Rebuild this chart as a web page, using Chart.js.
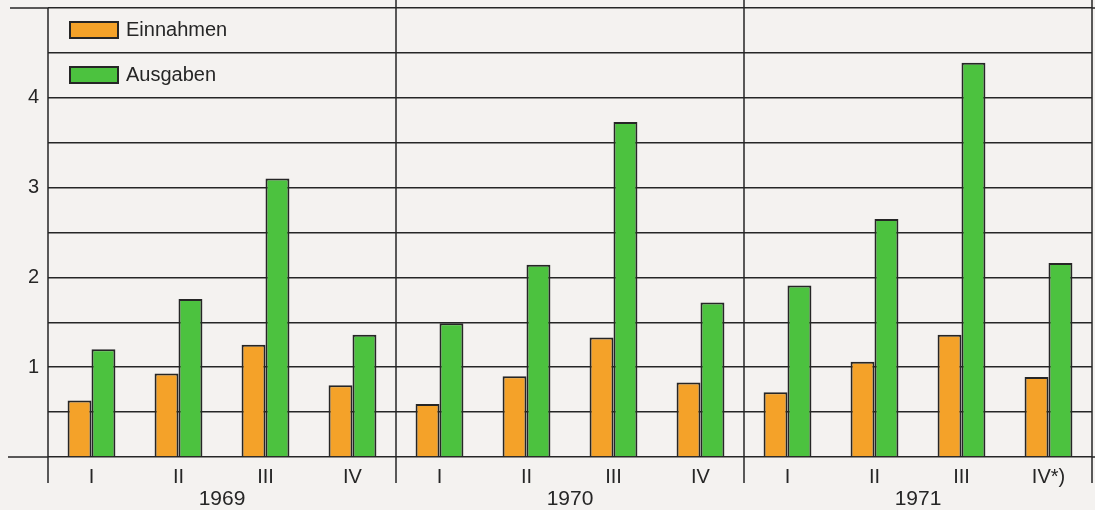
<!DOCTYPE html>
<html>
<head>
<meta charset="utf-8">
<script src="https://cdn.jsdelivr.net/npm/chart.js@4/dist/chart.umd.min.js"></script>
<style>
  body { margin: 0; background: #f4f2f0; }
  canvas { display: block; }
</style>
</head>
<body>
<canvas id="myChart" width="1095" height="510"></canvas>
<script>
// quarters, three years side by side
var quarters = ['I', 'II', 'III', 'IV', 'I', 'II', 'III', 'IV', 'I', 'II', 'III', 'IV*)'];
var years = ['1969', '1970', '1971'];
var einnahmen = [0.63, 0.93, 1.25, 0.80, 0.59, 0.90, 1.33, 0.83, 0.72, 1.06, 1.36, 0.89];
var ausgaben = [1.20, 1.76, 3.10, 1.36, 1.49, 2.14, 3.73, 1.72, 1.91, 2.65, 4.39, 2.16];
var yTicks = [1, 2, 3, 4];

var orange = '#f4a229';
var green = '#4cc23f';
var ink = '#262626';
var font = '"Liberation Sans", Arial, sans-serif';

var frame = {
    id: 'frame',
    afterDraw: function (chart) {
        var c = chart.ctx;
        var area = chart.chartArea;
        var x = chart.scales.x;
        var y = chart.scales.y;
        var base = y.getPixelForValue(0);
        var top = y.getPixelForValue(5);
        c.save();
        c.strokeStyle = ink;
        c.lineWidth = 1.5;
        // top line and baseline run out to the left
        c.beginPath();
        c.moveTo(10, top); c.lineTo(area.left, top);
        c.moveTo(8, base); c.lineTo(area.left, base);
        c.moveTo(area.right, top); c.lineTo(chart.width, top);
        c.moveTo(area.right, base); c.lineTo(chart.width, base);
        c.stroke();
        // year separators
        var seps = [area.left];
        for (var i = 1; i < years.length; i++) {
            seps.push((x.getPixelForValue(i * 4 - 1) + x.getPixelForValue(i * 4)) / 2);
        }
        seps.push(area.right);
        c.beginPath();
        seps.forEach(function (sx, k) {
            c.moveTo(sx, k === 0 ? top : 0);
            c.lineTo(sx, base + 26);
        });
        c.stroke();
        // year labels
        c.fillStyle = ink;
        c.font = '21px ' + font;
        c.textAlign = 'center';
        c.textBaseline = 'middle';
        years.forEach(function (yr, k) {
            c.fillText(yr, (seps[k] + seps[k + 1]) / 2, base + 42);
        });
        // legend
        c.font = '20px ' + font;
        c.textAlign = 'left';
        c.lineWidth = 2;
        chart.data.datasets.forEach(function (ds, k) {
            var ly = 22 + k * 45;
            c.fillStyle = ds.backgroundColor;
            c.fillRect(70, ly, 48, 16);
            c.strokeRect(70, ly, 48, 16);
            c.fillStyle = ink;
            c.fillText(ds.label, 126, ly + 8);
        });
        c.restore();
    }
};

var ctx = document.getElementById('myChart').getContext('2d');
var chart = new Chart(ctx, {
    type: 'bar',
    data: {
        labels: quarters,
        datasets: [{
            label: 'Einnahmen',
            data: einnahmen,
            backgroundColor: orange,
            borderColor: ink,
            borderWidth: 2
        }, {
            label: 'Ausgaben',
            data: ausgaben,
            backgroundColor: green,
            borderColor: ink,
            borderWidth: 2
        }]
    },
    options: {
        responsive: false,
        animation: false,
        layout: { padding: { top: 8, right: 3, left: 0, bottom: 0 } },
        datasets: {
            bar: { categoryPercentage: 0.55, barPercentage: 1.0 }
        },
        plugins: {
            legend: { display: false },
            tooltip: { enabled: false }
        },
        scales: {
            x: {
                grid: { display: false },
                border: { display: false },
                ticks: { color: ink, font: { family: font, size: 20 }, padding: 0, maxRotation: 0 },
                afterFit: function (s) { s.height = 53; }
            },
            y: {
                min: 0,
                max: 5,
                grid: { color: ink, lineWidth: 1.5, drawTicks: false },
                border: { display: false },
                ticks: {
                    stepSize: 0.5,
                    color: ink,
                    padding: 9,
                    font: { family: font, size: 20 },
                    callback: function (v) { return yTicks.indexOf(v) >= 0 ? v : ''; }
                },
                afterFit: function (s) {
                    s.width = 48;
                    s.paddingTop = 0;
                    s.paddingBottom = 0;
                }
            }
        }
    },
    plugins: [frame]
});
</script>
</body>
</html>
